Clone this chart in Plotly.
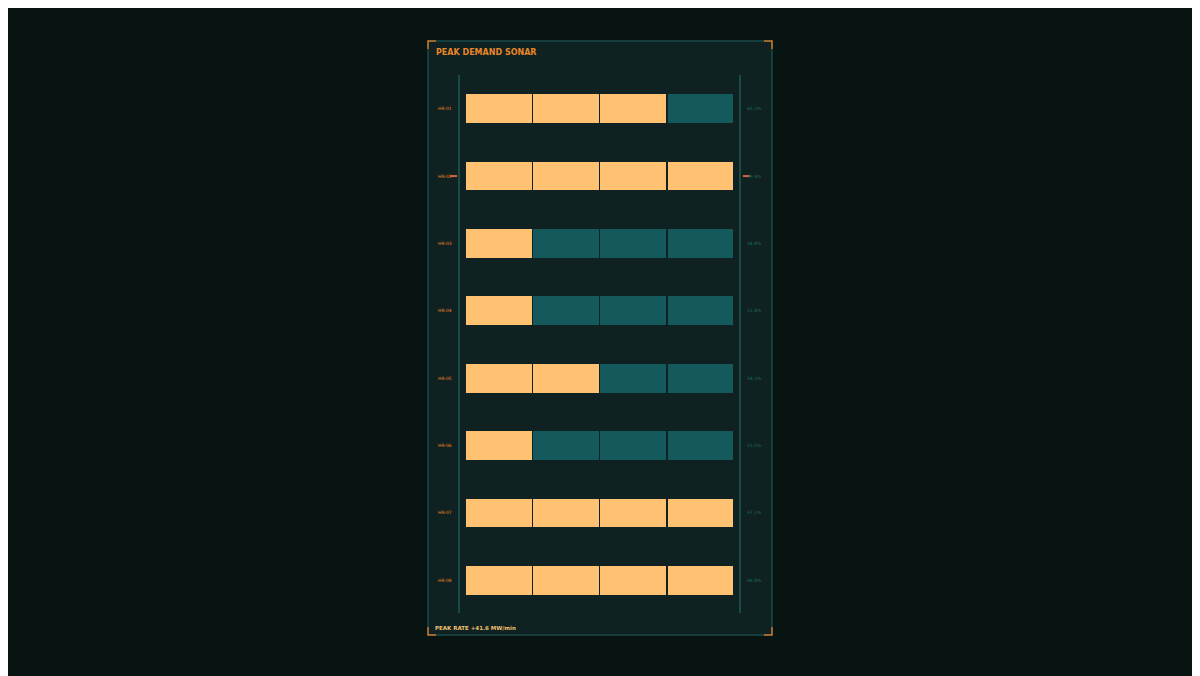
import plotly.graph_objects as go

rows = ["HR-01", "HR-02", "HR-03", "HR-04", "HR-05", "HR-06", "HR-07", "HR-08"]
values = [65.2, 99.4, 34.8, 22.8, 58.2, 15.5, 97.2, 96.8]
segments = 4
title = "PEAK DEMAND SONAR"
footer = "PEAK RATE +41.6 MW/min"

BG = "#081412"; PANEL = "#0f2120"; EDGE = "#1f6060"
ON = "#ffc273"; OFF = "#145a5c"; ACC = "#e8862a"

W, H = 1200, 676
OX, OY = 8, 8
def px(x): return (x - OX) / W
def py(y): return 1 - (y - OY) / H

fig = go.Figure()
filled = [round(v / (100 / segments)) for v in values]
for s in range(segments):
    fig.add_trace(go.Bar(
        y=rows, x=[1] * len(rows), orientation="h",
        marker=dict(color=[ON if s < f else OFF for f in filled],
                    line=dict(color=PANEL, width=1.5)),
        hoverinfo="skip", showlegend=False))

for r, v in zip(rows, values):
    fig.add_annotation(x=px(436), xref="paper", y=r, yref="y", text=r, showarrow=False,
                       xanchor="left", font=dict(size=4.5, color=ACC, family="DejaVu Sans"))
    fig.add_annotation(x=px(745), xref="paper", y=r, yref="y", text=f"{v:.1f}%", showarrow=False,
                       xanchor="left", font=dict(size=4.5, color="#1f6e6c", family="DejaVu Sans"))

shapes = [
    dict(type="rect", xref="paper", yref="paper", x0=px(428), x1=px(772), y0=py(635), y1=py(41),
         fillcolor=PANEL, line=dict(color=EDGE, width=1), layer="below"),
    dict(type="line", xref="paper", yref="paper", x0=px(459), x1=px(459), y0=py(613), y1=py(75),
         line=dict(color="#1e6a66", width=1.2)),
    dict(type="line", xref="paper", yref="paper", x0=px(740), x1=px(740), y0=py(613), y1=py(75),
         line=dict(color="#1e6a66", width=1.2)),
    dict(type="line", xref="paper", yref="y", x0=px(450), x1=px(457), y0="HR-02", y1="HR-02",
         line=dict(color="#e0603a", width=2)),
    dict(type="line", xref="paper", yref="y", x0=px(743), x1=px(750), y0="HR-02", y1="HR-02",
         line=dict(color="#e0603a", width=2)),
]
L = 8
for (cx, cy, dx, dy) in [(428, 41, 1, 1), (772, 41, -1, 1), (428, 635, 1, -1), (772, 635, -1, -1)]:
    shapes.append(dict(type="path", xref="paper", yref="paper",
                       path=f"M {px(cx+dx*L)} {py(cy)} L {px(cx)} {py(cy)} L {px(cx)} {py(cy+dy*L)}",
                       line=dict(color="#c8782a", width=1.5)))

fig.add_annotation(x=px(434), y=py(46), xref="paper", yref="paper", text=f"<b>{title}</b>",
                   showarrow=False, xanchor="left", font=dict(size=8, color=ACC, family="DejaVu Sans"))
fig.add_annotation(x=px(433), y=py(633), xref="paper", yref="paper", text=f"<b>{footer}</b>",
                   showarrow=False, xanchor="left", font=dict(size=5.5, color="#f0c070", family="DejaVu Sans"))

fig.update_layout(
    width=W, height=H, margin=dict(l=0, r=0, t=0, b=0),
    paper_bgcolor=BG, plot_bgcolor="rgba(0,0,0,0)", barmode="stack", bargap=0.55,
    xaxis=dict(domain=[px(465), px(734)], range=[0, segments], visible=False, fixedrange=True),
    yaxis=dict(domain=[py(614), py(75)], autorange="reversed", visible=False, fixedrange=True),
    shapes=shapes,
)
fig.write_html("out.html")
